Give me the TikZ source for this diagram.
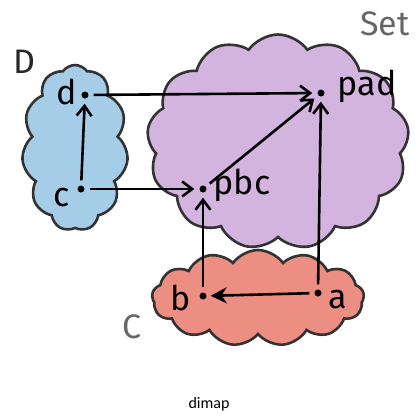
\documentclass[tikz,border=0pt]{standalone}
\usepackage{fontspec}
\setmainfont{Carlito}
\newfontfamily\handfont{Fira Sans}
\usetikzlibrary{shapes.symbols,arrows.meta}
\definecolor{cblue}{RGB}{165,205,232}
\definecolor{cpurple}{RGB}{210,180,222}
\definecolor{cred}{RGB}{236,142,130}
\begin{document}
\begin{tikzpicture}[x=1pt,y=-1pt,
  blob/.style={cloud, draw=black!80, line width=2.6pt, cloud puffs=#1, cloud puff arc=110, inner sep=0pt},
  pt/.style={circle, fill=black, inner sep=0pt, minimum size=7pt},
  lbl/.style={font=\handfont\fontsize{34}{34}\selectfont},
  catlbl/.style={font=\handfont\fontsize{34}{34}\selectfont, text=black!60},
  arr/.style={line width=2.6pt, -{Straight Barb[length=10pt,width=15pt]}, shorten >=5pt, shorten <=5pt},
  arrf/.style={line width=2.6pt, -{Stealth[length=16pt,width=16pt]}, shorten >=4pt, shorten <=5pt}]
\useasboundingbox (0,0) rectangle (418,416);
% clouds
\node[blob=13, fill=cpurple, minimum width=262pt, minimum height=215pt] (setc) at (278,142) {};
\node[blob=11, fill=cblue, minimum width=106pt, minimum height=166pt, aspect=0.6] (dc) at (75,148) {};
\node[blob=13, fill=cred, minimum width=212pt, minimum height=96pt, aspect=2.2] (cc) at (258,298) {};
% category labels
\node[catlbl, text=black!85] (lD) at (24,62) {D};
\node[catlbl] (lSet) at (385,24) {Set};
\node[catlbl] (lC) at (132,327) {C};
% points
\node[pt] (d) at (85,95) {};
\node[pt] (c) at (81,189) {};
\node[pt] (pbc) at (203,189) {};
\node[pt] (pad) at (321,93) {};
\node[pt] (b) at (203,296) {};
\node[pt] (a) at (318,293) {};
% point labels
\node[lbl] (ld) at (67,92) {d};
\node[lbl] (lc) at (62,198) {c};
\node[lbl] (lpbc) at (242,185) {pbc};
\node[lbl] (lpad) at (367,86) {pad};
\node[lbl] (lb) at (181,298) {b};
\node[lbl] (la) at (338,300) {a};
% arrows
\draw[arr] (c) -- (d);
\draw[arr] (d) -- (pad);
\draw[arr] (c) -- (pbc);
\draw[arr] (pbc) -- (pad);
\draw[arr] (b) -- (pbc);
\draw[arr] (a) -- (pad);
\draw[arrf] (a) -- (b);
% caption
\node[font=\fontsize{16}{16}\selectfont] (capt) at (209,404) {dimap};
\end{tikzpicture}
\end{document}
